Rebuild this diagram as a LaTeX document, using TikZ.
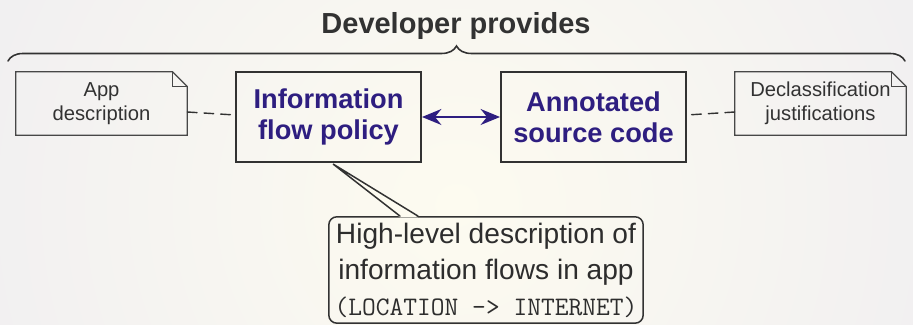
\documentclass[tikz,border=0pt]{standalone}
\usepackage{fontspec}
\setmainfont{Liberation Sans}
\usetikzlibrary{arrows.meta, calc, decorations.pathreplacing}

\begin{document}
\begin{tikzpicture}[>=Stealth, line cap=round]

    % --- Definitions ---
    % Colors to match the image
    \definecolor{policyblue}{RGB}{46, 30, 128}
    \definecolor{inkgray}{RGB}{50, 50, 50}
    \definecolor{bgedge}{RGB}{236, 235, 242}
    \definecolor{bgmid}{RGB}{253, 251, 240}

    \def\fold{0.3cm} % dog-ear of the notes

    \tikzset{
        mainbox/.style={draw=inkgray, line width=1.1pt, minimum width=3.7cm,
            minimum height=1.8cm, align=center, text=policyblue,
            font=\fontsize{15.5}{17.6}\selectfont\bfseries},
        notebox/.style={minimum width=3.42cm, minimum height=1.26cm,
            align=center, text=inkgray, font=\fontsize{11.5}{13.6}\selectfont},
        noteline/.style={draw=inkgray!90, line width=0.7pt},
        dashline/.style={inkgray, line width=0.8pt, dash pattern=on 5.5pt off 4pt},
        calloutbox/.style={draw=inkgray, line width=0.85pt, rounded corners=0.16cm,
            minimum width=6.28cm, minimum height=2.12cm, align=center,
            text=inkgray!90!black, font=\fontsize{16}{21}\selectfont}
    }

    % --- Background ---
    \useasboundingbox (0,0) rectangle (18.26,6.5);
    \begin{scope}
        \clip (0,0) rectangle (18.26,6.5);
        \shade[inner color=bgmid, outer color=bgedge] (9.13,2.4) circle (14cm);
    \end{scope}

    % --- Title and brace ---
    \node[text=inkgray, font=\fontsize{16.5}{20}\selectfont\bfseries] (title) at (9.12,5.98) {Developer provides};
    \coordinate (braceL) at (0.16,5.28);
    \coordinate (braceR) at (18.1,5.28);
    \draw[decorate, decoration={brace, amplitude=0.3cm}, inkgray, line width=0.9pt]
        (braceL) -- (braceR);

    % --- Boxes ---
    \node[mainbox] (policy) at (6.57,4.16) {Information\\flow policy};
    \node[mainbox] (source) at (11.87,4.16) {Annotated\\source code};

    % --- Notes ---
    \node[notebox] (appdesc) at (2.03,4.43) {App\\description};
    \node[notebox] (declass) at (16.41,4.43) {Declassification\\justifications};

    \foreach \n in {appdesc, declass} {
        \draw[noteline] (\n.north west) -- ([xshift=-\fold]\n.north east)
            -- ([yshift=-\fold]\n.north east) -- (\n.south east) -- (\n.south west) -- cycle;
        \draw[noteline] ([xshift=-\fold]\n.north east) |- ([yshift=-\fold]\n.north east);
    }

    % --- Connectors ---
    \draw[dashline] ([yshift=-0.17cm]appdesc.east) -- ([yshift=0.04cm]policy.west);
    \draw[dashline] ([yshift=-0.17cm]declass.west) -- ([yshift=0.04cm]source.east);
    \draw[<->, policyblue, line width=1.5pt, >={Stealth[length=11pt, width=9pt]}]
        (policy.east) -- (source.west);

    % --- Callout ---
    \node[calloutbox] (callout) at (9.72,1.1)
        {High-level description of\\information flows in app\\[-1pt]
         {\fontsize{15.2}{16}\selectfont\ttfamily (LOCATION -> INTERNET)}};
    \coordinate (tip) at (6.66,3.22);
    \coordinate (ptA) at ($(callout.north)+(-1.72,0)$);
    \coordinate (ptB) at ($(callout.north)+(-1.36,0)$);
    \fill[bgmid] ([yshift=-0.7pt]ptA) -- (tip) -- ([yshift=-0.7pt]ptB) -- cycle;
    \draw[inkgray, line width=0.85pt, line join=miter] (ptA) -- (tip) -- (ptB);

\end{tikzpicture}
\end{document}
